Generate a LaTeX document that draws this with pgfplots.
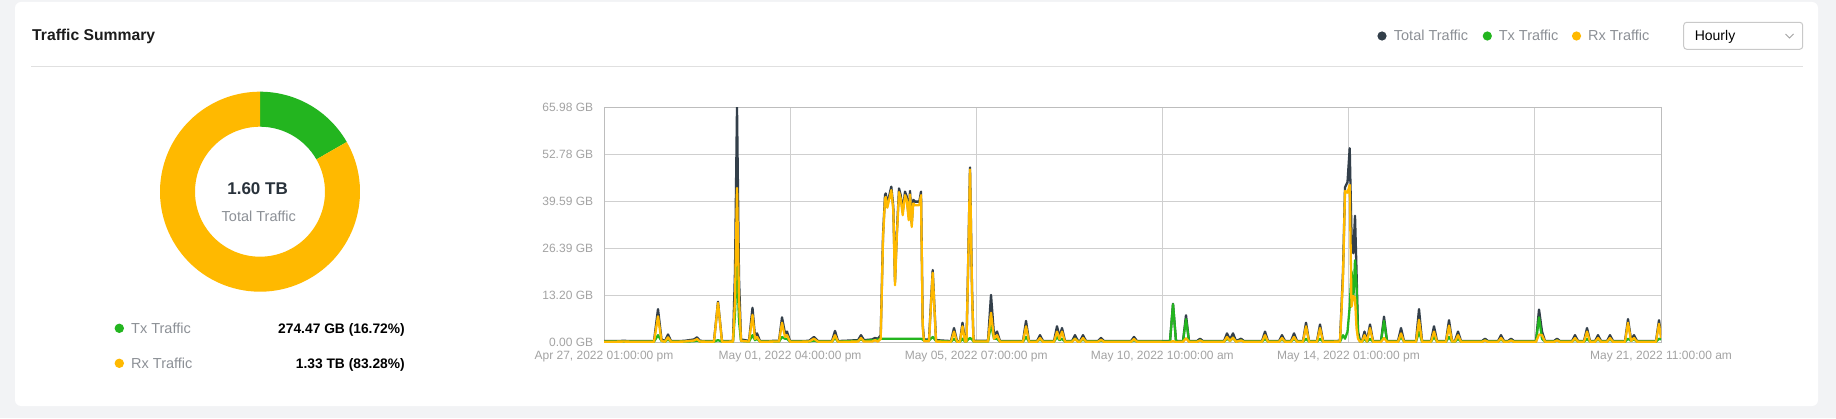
\documentclass[border=0pt]{standalone}
\usepackage{fontspec}
\setmainfont{Liberation Sans}
\usepackage{pgfplots}
\pgfplotsset{compat=1.18}
\usepackage{pgfplotstable}

\definecolor{bgc}{HTML}{F2F3F5}
\definecolor{sepc}{HTML}{E0E0E0}
\definecolor{gridc}{HTML}{CFCFCF}
\definecolor{axisc}{HTML}{BDBDBD}
\definecolor{tickc}{HTML}{A3A3A3}
\definecolor{legc}{HTML}{8C9096}
\definecolor{totc}{HTML}{333F4A}
\definecolor{txc}{HTML}{23B51F}
\definecolor{rxc}{HTML}{FFB900}
\definecolor{titc}{HTML}{1C1C1C}
\definecolor{boxc}{HTML}{C9C9C9}

\newcommand{\lastlab}{May 21, 2022 11:00:00 am}

\pgfplotstableread{
x tot tx rx
0 0.35 0.2 0.15
20 0.4 0.2 0.2
35 0.35 0.2 0.15
50 0.35 0.2 0.15
54 9.3 2.0 7.3
57.5 0.8 0.4 0.4
61 0.35 0.2 0.15
64 2.2 0.8 1.4
67 0.35 0.2 0.15
80 0.4 0.2 0.2
90 0.8 0.3 0.5
93 1.4 0.5 0.9
96 0.4 0.2 0.2
110 0.35 0.2 0.15
114 11.4 0.6 11.1
118 0.35 0.2 0.15
129 0.4 0.2 0.2
131 20 8 12
133 65.98 22.7 43.3
135 18 6 12
137 0.8 0.4 0.4
145 0.4 0.2 0.2
148.5 9.7 2.0 7.7
151 1.5 0.6 0.9
153 2.5 1.0 1.5
156 0.35 0.2 0.15
170 0.4 0.2 0.2
175 0.4 0.2 0.2
178 7.0 1.5 5.5
181 2.5 1.0 1.5
183 3.0 1.0 2.0
186 0.35 0.2 0.15
205 0.4 0.2 0.2
210 1.5 0.5 1.0
214 0.35 0.2 0.15
228 0.35 0.2 0.15
231 3.2 1.2 2.0
234 0.35 0.2 0.15
254 0.6 0.4 0.2
257 2.0 0.8 1.2
260 0.6 0.4 0.2
268 0.8 0.6 0.2
271 1.2 0.6 0.6
274 1.0 0.8 0.2
276.7 2.0 1.0 1.0
279 30 1.0 29
281 41.3 1.0 40.3
281.7 41.8 1.0 40.8
283.3 38.8 1.0 37.8
287.3 43.7 1.0 42.7
289.3 38 1.0 37
291 17.0 1.0 16.0
292.7 30 1.0 29
295 43.2 1.0 42.2
296.7 41.3 1.0 40.3
298.7 36.7 1.0 35.7
301 42.3 1.0 41.3
302.7 41 1.0 40
304.7 35.3 1.0 34.3
306 42.5 1.0 41.5
307.7 33.4 1.0 32.4
309.3 40 1.0 39
311 39.5 1.0 38.5
315.3 39.5 1.0 38.5
317 42.3 1.0 41.3
318.7 5 0.8 4.2
320 0.8 0.5 0.3
325 0.8 0.5 0.3
328.7 20.3 1.5 19.5
332 0.6 0.4 0.2
347 0.35 0.2 0.15
350 4.0 1.0 3.0
353 0.35 0.2 0.15
356 0.35 0.2 0.15
358.5 5.5 1.0 4.5
361 0.4 0.2 0.2
362.5 0.4 0.2 0.2
364 20 0.8 19.2
366 49.1 1.2 48.5
368 15 0.8 14.2
369.5 0.4 0.2 0.2
384 0.4 0.2 0.2
387 13.3 5.0 8.3
390 2.0 1.0 1.0
393 3.0 1.0 2.0
396 0.35 0.2 0.15
419 0.35 0.2 0.15
422 6.0 1.5 4.5
425 0.35 0.2 0.15
433 0.35 0.2 0.15
436 2.0 0.8 1.2
439 0.35 0.2 0.15
450 0.35 0.2 0.15
453 4.5 1.5 3.0
455.5 1.5 0.6 0.9
458 4.0 1.0 3.0
461 0.35 0.2 0.15
468 0.35 0.2 0.15
471 2.0 1.0 1.0
474 0.35 0.2 0.15
476 0.35 0.2 0.15
479 2.0 0.8 1.2
482 0.35 0.2 0.15
494 0.35 0.2 0.15
497 1.2 0.5 0.7
500 0.35 0.2 0.15
527 0.35 0.2 0.15
530 1.5 0.6 0.9
533 0.35 0.2 0.15
566 0.35 0.25 0.1
569 10.8 10.7 0.3
572 0.35 0.25 0.1
579 0.35 0.2 0.15
582 7.6 6.5 1.1
585 0.35 0.2 0.15
593 0.35 0.2 0.15
596 1.0 0.5 0.5
599 0.35 0.2 0.15
620 0.35 0.2 0.15
623 2.5 1.0 1.5
626 0.8 0.4 0.4
629 2.5 1.2 1.3
632 0.35 0.2 0.15
637 1.0 0.5 0.5
640 0.35 0.2 0.15
658 0.35 0.2 0.15
661 3.0 1.0 2.0
664 0.35 0.2 0.15
675 0.35 0.2 0.15
678 2.0 0.8 1.2
681 0.35 0.2 0.15
687 0.35 0.2 0.15
690 2.5 1.0 1.5
693 0.35 0.2 0.15
699 0.35 0.2 0.15
702 5.5 1.0 4.5
705 0.35 0.2 0.15
713 0.35 0.2 0.15
716 5.0 1.0 4.0
719 0.35 0.2 0.15
736 0.4 0.2 0.2
739 20 2 18
741 43.5 1 42.5
743.5 45 3 42
745.7 54.5 10 44.2
747.5 30 20 10
749.3 25 12 13
751 35.5 23 12.5
752.5 20 16 4
754 3 2 1
756 0.4 0.2 0.2
758 0.35 0.2 0.15
760.5 3.0 1.0 2.0
763 0.4 0.2 0.2
766 5.0 1.0 4.0
769 0.35 0.2 0.15
777 0.35 0.2 0.15
780 7.2 6.0 1.2
783 0.35 0.2 0.15
794 0.35 0.2 0.15
797 4.0 1.5 2.5
800 0.35 0.2 0.15
812 0.35 0.2 0.15
815 9.3 3.0 6.3
818 0.35 0.2 0.15
827 0.35 0.2 0.15
830 4.5 1.5 3.0
833 0.35 0.2 0.15
842 0.35 0.2 0.15
845 6.2 1.5 4.7
848 0.4 0.2 0.2
851 0.4 0.2 0.2
854 3.0 1.0 2.0
857 0.35 0.2 0.15
878 0.35 0.2 0.15
881 1.0 0.5 0.5
884 0.35 0.2 0.15
894 0.35 0.2 0.15
897 2.0 0.8 1.2
900 0.35 0.2 0.15
904 0.35 0.2 0.15
907 1.0 0.5 0.5
910 0.35 0.2 0.15
932 0.35 0.2 0.15
935 9.2 7.0 2.2
938 3.0 1.0 2.0
941 0.35 0.2 0.15
950 0.35 0.2 0.15
953 1.0 0.5 0.5
956 0.35 0.2 0.15
968 0.35 0.2 0.15
971 2.0 0.8 1.2
974 0.35 0.2 0.15
980 0.35 0.2 0.15
983 4.0 1.0 3.0
986 0.35 0.2 0.15
991 0.35 0.2 0.15
994 2.0 0.8 1.2
997 0.35 0.2 0.15
1003 0.35 0.2 0.15
1006 2.0 0.8 1.2
1009 0.35 0.2 0.15
1021 0.35 0.2 0.15
1024 6.5 1.0 5.5
1027 0.8 0.4 0.4
1030 2.0 0.8 1.2
1033 0.35 0.2 0.15
1052 0.35 0.2 0.15
1055 6.2 1.0 5.2
1057 2.0 0.8 1.2
}\traffic

\begin{document}
\begin{tikzpicture}[x=1pt,y=1pt]
% page background and card
\fill[bgc] (0,0) rectangle (1836,418);
\fill[white, rounded corners=6pt] (15,12) rectangle (1818,416);
% title
\node[anchor=base west, inner sep=0pt, text=titc, font=\fontsize{15.7}{18}\selectfont\bfseries] at (32,377.3) {Traffic Summary};
% separator
\draw[sepc, line width=1pt] (31,351.7) -- (1803,351.7);
% top legend
\fill[totc] (1382,382) circle (4.6);
\node[anchor=base west, inner sep=0pt, text=legc, font=\fontsize{14.5}{17}\selectfont] at (1393.7,377.3) {Total Traffic};
\fill[txc] (1487.3,382) circle (4.6);
\node[anchor=base west, inner sep=0pt, text=legc, font=\fontsize{14.5}{17}\selectfont] at (1498.6,377.3) {Tx Traffic};
\fill[rxc] (1576.5,382) circle (4.6);
\node[anchor=base west, inner sep=0pt, text=legc, font=\fontsize{14.5}{17}\selectfont] at (1587.9,377.3) {Rx Traffic};
% dropdown
\draw[boxc, line width=1pt, rounded corners=3pt] (1683.7,368.7) rectangle (1802.7,395.7);
\node[anchor=base west, inner sep=0pt, text=black, font=\fontsize{14}{17}\selectfont] at (1694.6,377.3) {Hourly};
\draw[tickc, line width=0.9pt] (1785.5,384) -- (1789.5,380) -- (1793.5,384);
% donut
\pgfmathsetmacro{\txpct}{16.72}
\pgfmathsetmacro{\ang}{90-3.6*\txpct}
\begin{scope}[shift={(260,226.3)}]
\fill[txc] (90:100) arc[start angle=90, end angle=\ang, radius=100] -- (\ang:65) arc[start angle=\ang, end angle=90, radius=65] -- cycle;
\fill[rxc] (\ang:100) arc[start angle=\ang, end angle=-270, radius=100] -- (-270:65) arc[start angle=-270, end angle=\ang, radius=65] -- cycle;
\end{scope}
\node[inner sep=0pt, text=totc!80!black, font=\fontsize{17}{20}\selectfont\bfseries] at (257.6,229.5) {1.60 TB};
\node[inner sep=0pt, text=legc, font=\fontsize{14.5}{17}\selectfont] at (258.8,201.4) {Total Traffic};
% bottom legend
\fill[txc] (119.3,89.7) circle (4.7);
\node[anchor=base west, inner sep=0pt, text=legc, font=\fontsize{14.5}{17}\selectfont] at (131,84.7) {Tx Traffic};
\node[anchor=base east, inner sep=0pt, text=black, font=\fontsize{13.8}{17}\selectfont\bfseries] at (405,84.7) {274.47 GB (16.72\%)};
\fill[rxc] (119.3,54.7) circle (4.7);
\node[anchor=base west, inner sep=0pt, text=legc, font=\fontsize{14.5}{17}\selectfont] at (131,49.7) {Rx Traffic};
\node[anchor=base east, inner sep=0pt, text=black, font=\fontsize{13.8}{17}\selectfont\bfseries] at (405,49.7) {1.33 TB (83.28\%)};
% line chart
\begin{axis}[
  at={(604pt,75.7pt)}, anchor=south west,
  scale only axis, width=1057pt, height=235pt,
  xmin=0, xmax=1057, ymin=0, ymax=65.98,
  axis line style={axisc, line width=1pt},
  grid=major, major grid style={gridc, line width=1pt},
  major tick length=0pt,
  xtick={0,186.1,372.2,558.3,744.4,930.5},
  xticklabels={{Apr 27, 2022 01:00:00 pm},{May 01, 2022 04:00:00 pm},{May 05, 2022 07:00:00 pm},{May 10, 2022 10:00:00 am},{May 14, 2022 01:00:00 pm},{}},
  extra x ticks={1057},
  extra x tick labels={\lastlab},
  extra x tick style={grid=none},
  ytick={0,13.196,26.392,39.588,52.784,65.98},
  yticklabels={{0.00 GB},{13.20 GB},{26.39 GB},{39.59 GB},{52.78 GB},{65.98 GB}},
  tick label style={font=\fontsize{12}{14}\selectfont, text=tickc},
  yticklabel style={anchor=east, inner sep=0pt, xshift=-10.7pt},
  xticklabel style={anchor=north, inner sep=0pt, yshift=-9pt},
  clip=true,
]
\addplot[totc, line width=2.3pt, line join=round] table[x=x, y=tot] {\traffic};
\addplot[txc, line width=2.3pt, line join=round] table[x=x, y=tx] {\traffic};
\addplot[rxc, line width=2.3pt, line join=round] table[x=x, y=rx] {\traffic};
\end{axis}
\end{tikzpicture}
\end{document}
